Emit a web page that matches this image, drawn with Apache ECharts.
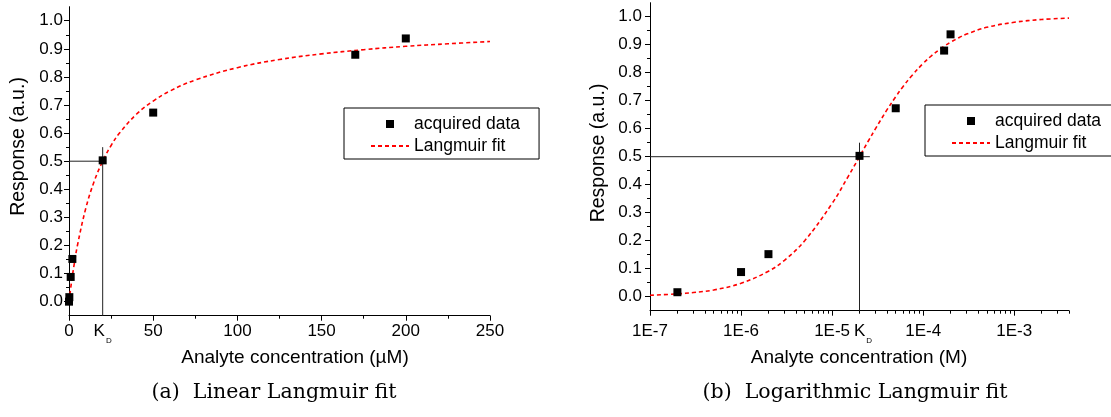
<!DOCTYPE html>
<html>
<head>
<meta charset="utf-8">
<title>Langmuir fits</title>
<script src="https://cdn.jsdelivr.net/npm/echarts@6/dist/echarts.min.js"></script>
<style>
  html, body { margin: 0; padding: 0; background: #ffffff; }
  #chart { width: 1111px; height: 417px; }
</style>
</head>
<body>
<div id="chart"></div>
<script>
// Measured sensor response versus analyte concentration (µM)
const concUM   = [0, 0.2, 1, 2, 20, 50, 170, 200];
const response = [0.0, 0.016, 0.088, 0.152, 0.503, 0.673, 0.879, 0.937];

// Langmuir fit curve, sampled along the concentration range (µM)
const fitUM   = [0, 0.1, 0.2, 0.3, 0.5, 1, 2, 3, 5, 10, 15, 20, 25, 30, 40, 50, 60, 75,
                 100, 125, 150, 175, 200, 225, 250, 300, 500, 1000, 2000, 4000];
const fitResp = [0, 0.005, 0.01, 0.015, 0.024, 0.048, 0.091, 0.13, 0.2, 0.333, 0.429, 0.5,
                 0.556, 0.6, 0.667, 0.714, 0.75, 0.789, 0.833, 0.862, 0.882, 0.897, 0.909,
                 0.918, 0.926, 0.938, 0.962, 0.98, 0.99, 0.995];

// Dissociation constant (µM) and half response level
const KD_UM = 20;
const HALF = 0.5;

// Tick labels
const yTicks    = [0.0, 0.1, 0.2, 0.3, 0.4, 0.5, 0.6, 0.7, 0.8, 0.9, 1.0];
const yMinor    = [0.05, 0.15, 0.25, 0.35, 0.45, 0.55, 0.65, 0.75, 0.85, 0.95];
const linLabels = [0, 50, 100, 150, 200, 250];
const logDecades = [1e-7, 1e-6, 1e-5, 1e-4, 1e-3];

const SANS  = '"Liberation Sans", Arial, Helvetica, sans-serif';
const SERIF = '"DejaVu Serif", serif';
const INK = '#000000';
const RED = '#ff0000';
const UM_TO_M = 1e-6;
const LOG_MAX = 4e-3;
const SQUARE = 'path://M0,0L10,0L10,10L0,10Z';

const chart = echarts.init(document.getElementById('chart'), null, { renderer: 'canvas' });

// series data built from the arrays above
const ptsLin = concUM.map((c, i) => [c, response[i]]);
const ptsLog = concUM.map((c, i) => [c * UM_TO_M, response[i]]).filter(p => p[0] > 0);
const fitLin = fitUM.map((c, i) => [c, fitResp[i]]).filter(p => p[0] <= 250);
const fitLog = fitUM.map((c, i) => [c * UM_TO_M, fitResp[i]]).filter(p => p[0] > 0);
const KD_M = KD_UM * UM_TO_M;

// minor ticks of the log axis: 2..9 of each decade
const logMinor = [];
logDecades.forEach(d => {
  for (let m = 2; m <= 9; m++) {
    const v = d * m;
    if (v <= LOG_MAX * 1.0001) logMinor.push(v);
  }
});

// "K" with a subscript "D"; kPad shifts the K relative to the tick
function kdRich(kPad) {
  return {
    k: { fontSize: 17, fontFamily: SANS, color: INK, lineHeight: 19, verticalAlign: 'top', padding: [0, 0, 0, kPad] },
    d: { fontSize: 8, fontFamily: SANS, color: INK, lineHeight: 8, verticalAlign: 'top', padding: [14, 0, 0, 1] }
  };
}

const tickLabel = { color: INK, fontSize: 17, fontFamily: SANS };

function yAxisPair(gridIndex, margin) {
  return [
    {
      type: 'value', gridIndex, position: 'left', min: -0.05, max: 1.05,
      axisLine: { show: true, onZero: false, lineStyle: { color: INK, width: 1 } },
      axisTick: { show: true, customValues: yTicks, length: 5, lineStyle: { color: INK, width: 1 } },
      axisLabel: Object.assign({ customValues: yTicks, margin, formatter: v => v.toFixed(1) }, tickLabel),
      splitLine: { show: false }
    },
    {
      type: 'value', gridIndex, position: 'left', min: -0.05, max: 1.05,
      axisLine: { show: false, onZero: false },
      axisTick: { show: true, customValues: yMinor, length: 3, lineStyle: { color: INK, width: 1 } },
      axisLabel: { show: false },
      splitLine: { show: false }
    }
  ];
}

function legendBox(left, top) {
  return {
    left, top, orient: 'vertical',
    padding: [7, 19, 4, 26], itemWidth: 38, itemHeight: 8, itemGap: 4,
    borderColor: INK, borderWidth: 1, backgroundColor: '#ffffff',
    symbolKeepAspect: true,
    textStyle: { color: INK, fontSize: 17.5, fontFamily: SANS, lineHeight: 17 },
    selectedMode: false,
    data: [
      { name: 'acquired data', icon: SQUARE },
      { name: 'Langmuir fit', itemStyle: { opacity: 0 } }
    ]
  };
}

const crossStyle = { color: '#222222', width: 1 };
const fitStyle = { color: RED, width: 1.6, type: [4, 3] };

const option = {
  animation: false,
  backgroundColor: '#ffffff',
  grid: [
    { left: 69, top: 6.7, width: 421, height: 309 },
    { left: 650, top: 2.7, width: 419, height: 308 }
  ],
  xAxis: [
    {
      type: 'value', gridIndex: 0, position: 'bottom', min: 0, max: 250, interval: 50,
      axisLine: { show: true, onZero: false, lineStyle: { color: INK, width: 1 } },
      axisTick: { show: true, length: 5, lineStyle: { color: INK, width: 1 } },
      minorTick: { show: true, splitNumber: 2, length: 3, lineStyle: { color: INK, width: 1 } },
      axisLabel: Object.assign({
        customValues: [0, KD_UM].concat(linLabels.slice(1)), margin: 7,
        formatter: v => (v === KD_UM ? '{k|K}{d|D}' : String(v)),
        rich: kdRich(0)
      }, tickLabel),
      splitLine: { show: false }
    },
    {
      type: 'log', logBase: 10, gridIndex: 1, position: 'bottom', min: 1e-7, max: LOG_MAX,
      axisLine: { show: true, onZero: false, lineStyle: { color: INK, width: 1 } },
      axisTick: { show: true, customValues: logDecades, length: 5, lineStyle: { color: INK, width: 1 } },
      axisLabel: Object.assign({
        customValues: logDecades.concat([KD_M]), margin: 12,
        formatter: v => {
          if (Math.abs(v - KD_M) / KD_M < 1e-6) return '{k|K}{d|D}';
          return '1E' + Math.round(Math.log10(v));
        },
        rich: kdRich(7)
      }, tickLabel),
      splitLine: { show: false }
    },
    {
      type: 'log', logBase: 10, gridIndex: 1, position: 'bottom', min: 1e-7, max: LOG_MAX,
      axisLine: { show: false, onZero: false },
      axisTick: { show: true, customValues: logMinor, length: 3, lineStyle: { color: INK, width: 1 } },
      axisLabel: { show: false },
      splitLine: { show: false }
    }
  ],
  yAxis: yAxisPair(0, 6).concat(yAxisPair(1, 8)),
  legend: [legendBox(344, 108), legendBox(925, 105)],
  series: [
    // linear plot
    {
      name: 'KD guide', type: 'line', xAxisIndex: 0, yAxisIndex: 0, silent: true,
      symbol: 'none', lineStyle: crossStyle, z: 1,
      data: [[0, HALF], [KD_UM * 1.08, HALF]]
    },
    {
      name: 'KD guide', type: 'line', xAxisIndex: 0, yAxisIndex: 0, silent: true,
      symbol: 'none', lineStyle: crossStyle, z: 1,
      data: [[KD_UM, -0.05], [KD_UM, 0.55]]
    },
    {
      name: 'Langmuir fit', type: 'line', xAxisIndex: 0, yAxisIndex: 0,
      symbol: 'none', smooth: 0.4, z: 2,
      lineStyle: fitStyle, itemStyle: { color: RED },
      data: fitLin
    },
    {
      name: 'acquired data', type: 'scatter', xAxisIndex: 0, yAxisIndex: 0,
      symbol: 'rect', symbolSize: 8, z: 3,
      itemStyle: { color: INK, opacity: 1 },
      data: ptsLin
    },
    // logarithmic plot
    {
      name: 'KD guide', type: 'line', xAxisIndex: 1, yAxisIndex: 2, silent: true,
      symbol: 'none', lineStyle: crossStyle, z: 1,
      data: [[1e-7, HALF], [KD_M * 1.3, HALF]]
    },
    {
      name: 'KD guide', type: 'line', xAxisIndex: 1, yAxisIndex: 2, silent: true,
      symbol: 'none', lineStyle: crossStyle, z: 1,
      data: [[KD_M, -0.05], [KD_M, 0.55]]
    },
    {
      name: 'Langmuir fit', type: 'line', xAxisIndex: 1, yAxisIndex: 2,
      symbol: 'none', smooth: 0.4, z: 2,
      lineStyle: fitStyle, itemStyle: { color: RED },
      data: fitLog
    },
    {
      name: 'acquired data', type: 'scatter', xAxisIndex: 1, yAxisIndex: 2,
      symbol: 'rect', symbolSize: 8, z: 3,
      itemStyle: { color: INK, opacity: 1 },
      data: ptsLog
    }
  ],
  graphic: [
    { type: 'text', x: 295, y: 358, style: { text: 'Analyte concentration (µM)', fill: INK, font: '19px ' + SANS, textAlign: 'center', textVerticalAlign: 'middle' } },
    { type: 'text', x: 859, y: 358, style: { text: 'Analyte concentration (M)', fill: INK, font: '19px ' + SANS, textAlign: 'center', textVerticalAlign: 'middle' } },
    { type: 'text', x: 18.5, y: 146.5, rotation: Math.PI / 2, style: { text: 'Response (a.u.)', fill: INK, font: '19.5px ' + SANS, textAlign: 'center', textVerticalAlign: 'middle' } },
    { type: 'text', x: 598.5, y: 153, rotation: Math.PI / 2, style: { text: 'Response (a.u.)', fill: INK, font: '19.5px ' + SANS, textAlign: 'center', textVerticalAlign: 'middle' } },
    { type: 'text', x: 274, y: 393, style: { text: '(a)  Linear Langmuir fit', fill: INK, font: '20.5px ' + SERIF, textAlign: 'center', textVerticalAlign: 'middle' } },
    { type: 'text', x: 855, y: 393, style: { text: '(b)  Logarithmic Langmuir fit', fill: INK, font: '20.5px ' + SERIF, textAlign: 'center', textVerticalAlign: 'middle' } }
  ]
};

chart.setOption(option);
</script>
</body>
</html>
